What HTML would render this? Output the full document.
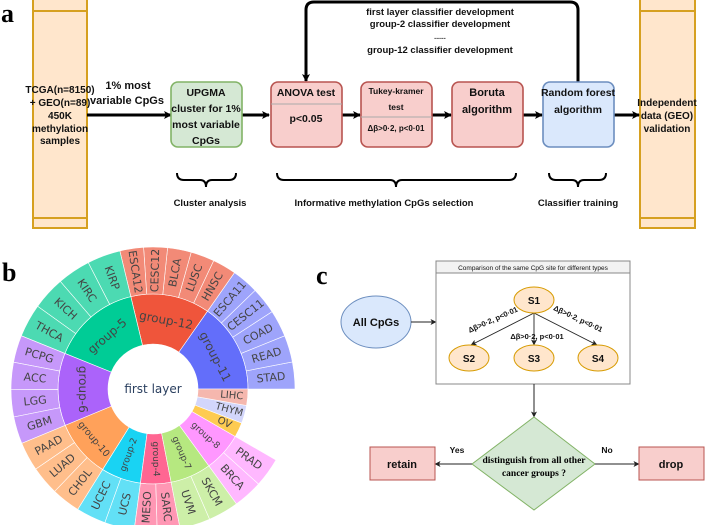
<!DOCTYPE html>
<html><head><meta charset="utf-8"><style>
html,body{margin:0;padding:0;background:#fff;}
svg{display:block;}
.a{font-family:"Liberation Sans",sans-serif;font-weight:bold;font-size:10.5px;fill:#111;text-anchor:middle;}
.c{font-family:"Liberation Sans",sans-serif;font-weight:bold;fill:#111;text-anchor:middle;}
.lab{font-family:"Liberation Serif",serif;font-weight:bold;font-size:26px;fill:#000;}
.sb{font-family:"DejaVu Sans",sans-serif;font-size:11px;fill:#444;text-anchor:middle;dominant-baseline:central;}
</style></head><body>
<svg id="s" width="708" height="525" viewBox="0 0 708 525" xmlns="http://www.w3.org/2000/svg">
<defs>
<marker id="ah" markerWidth="8" markerHeight="8" refX="7" refY="4" orient="auto" markerUnits="userSpaceOnUse"><path d="M0,0 L8,4 L0,8 L2,4 Z" fill="#000"/></marker>
<marker id="ahs" markerWidth="6" markerHeight="6" refX="5.5" refY="3" orient="auto" markerUnits="userSpaceOnUse"><path d="M0,0 L6,3 L0,6 L1.5,3 Z" fill="#222"/></marker>
</defs>
<text class="lab" x="1" y="22">a</text>
<text class="lab" x="2" y="281">b</text>
<text class="lab" x="316" y="284">c</text>

<rect x="33" y="-2" width="54" height="230" fill="#ffe6cc" stroke="#d6a020" stroke-width="2"/>
<line x1="33" y1="11" x2="87" y2="11" stroke="#d6a020" stroke-width="2"/>
<line x1="33" y1="218" x2="87" y2="218" stroke="#d6a020" stroke-width="2"/>
<rect x="640" y="-2" width="55" height="230" fill="#ffe6cc" stroke="#d6a020" stroke-width="2"/>
<line x1="640" y1="11" x2="695" y2="11" stroke="#d6a020" stroke-width="2"/>
<line x1="640" y1="218" x2="695" y2="218" stroke="#d6a020" stroke-width="2"/>
<text class="a" x="60" y="93" style="font-size:10px">TCGA(n=8150)</text>
<text class="a" x="60" y="106" style="font-size:10px">+ GEO(n=89)</text>
<text class="a" x="60" y="119" style="font-size:10px">450K</text>
<text class="a" x="60" y="132" style="font-size:10px">methylation</text>
<text class="a" x="60" y="144" style="font-size:10px">samples</text>
<text class="a" x="667" y="106" style="font-size:10px">Independent</text>
<text class="a" x="667" y="119" style="font-size:10px">data (GEO)</text>
<text class="a" x="667" y="132" style="font-size:10px">validation</text>
<text class="a" x="128" y="89" style="font-size:11px">1% most</text>
<text class="a" x="127" y="104" style="font-size:11px">variable CpGs</text>

<g stroke="#000" stroke-width="3" fill="none" marker-end="url(#ah)">
<line x1="87" y1="115" x2="171" y2="115"/>
<line x1="242" y1="115" x2="269" y2="115"/>
<line x1="342" y1="115" x2="360" y2="115"/>
<line x1="432" y1="115" x2="451" y2="115"/>
<line x1="523" y1="115" x2="542" y2="115"/>
<line x1="614" y1="115" x2="639" y2="115"/>
<path d="M578,82 L578,10 Q578,2 570,2 L314,2 Q306,2 306,10 L306,81"/>
</g>

<rect x="171" y="82" width="71" height="65" rx="7" fill="#d5e8d4" stroke="#82b366" stroke-width="1.6"/>
<text class="a" x="206" y="96">UPGMA</text>
<text class="a" x="206" y="112">cluster for 1%</text>
<text class="a" x="206" y="128">most variable</text>
<text class="a" x="206" y="144">CpGs</text>
<rect x="271" y="82" width="71" height="65" rx="7" fill="#f8cecc" stroke="#b85450" stroke-width="1.6"/>
<line x1="271" y1="104" x2="342" y2="104" stroke="#aaa" stroke-width="1"/>
<text class="a" x="306" y="96">ANOVA test</text>
<text class="a" x="306" y="122">p&lt;0.05</text>
<rect x="361" y="82" width="71" height="65" rx="7" fill="#f8cecc" stroke="#b85450" stroke-width="1.6"/>
<line x1="361" y1="117" x2="432" y2="117" stroke="#aaa" stroke-width="1"/>
<text class="a" x="396" y="94" style="font-size:8.5px">Tukey-kramer</text>
<text class="a" x="396" y="110" style="font-size:8.5px">test</text>
<text class="a" x="396" y="131" style="font-size:8px">Δβ&gt;0·2, p&lt;0·01</text>
<rect x="452" y="82" width="71" height="65" rx="7" fill="#f8cecc" stroke="#b85450" stroke-width="1.6"/>
<text class="a" x="487" y="96" style="font-size:11px">Boruta</text>
<text class="a" x="487" y="113" style="font-size:11px">algorithm</text>
<rect x="543" y="82" width="71" height="65" rx="7" fill="#dae8fc" stroke="#6c8ebf" stroke-width="1.6"/>
<text class="a" x="578" y="96" style="font-size:10.5px">Random forest</text>
<text class="a" x="578" y="113" style="font-size:10.5px">algorithm</text>

<text class="a" x="440" y="15" style="font-size:9.5px">first layer classifier development</text>
<text class="a" x="440" y="27" style="font-size:9.5px">group-2 classifier development</text>
<text class="a" x="440" y="39" style="font-size:7px">......</text>
<text class="a" x="440" y="53" style="font-size:9.5px">group-12 classifier development</text>

<g stroke="#000" stroke-width="2" fill="none">
<path d="M177,173 Q177,180 184,180 L200,180 Q206,180 206,187 Q206,180 212,180 L229,180 Q236,180 236,173"/>
<path d="M277,173 Q277,180 284,180 L390,180 Q396,180 396,187 Q396,180 402,180 L509,180 Q516,180 516,173"/>
<path d="M549,173 Q549,180 556,180 L572,180 Q578,180 578,187 Q578,180 584,180 L599,180 Q606,180 606,173"/>
</g>
<text class="a" x="210" y="206" style="font-size:9.5px">Cluster analysis</text>
<text class="a" x="384" y="206" style="font-size:9.5px">Informative methylation CpGs selection</text>
<text class="a" x="578" y="206" style="font-size:9.5px">Classifier training</text>

<g id="sun"></g>

<ellipse cx="376" cy="322" rx="35" ry="26" fill="#dae8fc" stroke="#6c8ebf" stroke-width="1"/>
<text class="c" x="376" y="326" style="font-size:11px">All CpGs</text>
<line x1="411" y1="322" x2="436" y2="322" stroke="#222" stroke-width="1" marker-end="url(#ahs)"/>
<rect x="436" y="261" width="194" height="123" fill="#fff" stroke="#888" stroke-width="1"/>
<rect x="436" y="261" width="194" height="12" fill="#f2f2f2" stroke="#888" stroke-width="1"/>
<text class="c" x="533" y="270" style="font-size:6.5px;font-weight:normal">Comparison of the same CpG site for different types</text>
<g stroke="#222" stroke-width="0.9" marker-end="url(#ahs)">
<line x1="534" y1="313" x2="471" y2="345"/>
<line x1="534" y1="313" x2="534" y2="345"/>
<line x1="534" y1="313" x2="597" y2="345"/>
</g>
<g fill="#ffe6cc" stroke="#d79b00" stroke-width="1">
<ellipse cx="534" cy="300" rx="20" ry="13"/>
<ellipse cx="469" cy="358" rx="20" ry="13"/>
<ellipse cx="534" cy="358" rx="20" ry="13"/>
<ellipse cx="598" cy="358" rx="20" ry="13"/>
</g>
<text class="c" x="534" y="304" style="font-size:10px">S1</text>
<text class="c" x="469" y="362" style="font-size:10px">S2</text>
<text class="c" x="534" y="362" style="font-size:10px">S3</text>
<text class="c" x="598" y="362" style="font-size:10px">S4</text>
<text class="c" x="494" y="322" style="font-size:7.5px" transform="rotate(-24 494 322)">Δβ&gt;0·2, p&lt;0·01</text>
<text class="c" x="537" y="339" style="font-size:7.5px">Δβ&gt;0·2, p&lt;0·01</text>
<text class="c" x="577" y="321" style="font-size:7.5px" transform="rotate(25 577 321)">Δβ&gt;0·2, p&lt;0·01</text>
<line x1="534" y1="384" x2="534" y2="417" stroke="#222" stroke-width="1" marker-end="url(#ahs)"/>
<polygon points="534,417 595,464 534,510 472,464" fill="#d5e8d4" stroke="#82b366" stroke-width="1"/>
<text x="534" y="463" style="font-family:'Liberation Serif',serif;font-weight:bold;font-size:9.5px;text-anchor:middle">distinguish  from all other</text>
<text x="534" y="476" style="font-family:'Liberation Serif',serif;font-weight:bold;font-size:9.5px;text-anchor:middle">cancer groups ?</text>
<line x1="472" y1="464" x2="435" y2="464" stroke="#222" stroke-width="1" marker-end="url(#ahs)"/>
<line x1="595" y1="464" x2="639" y2="464" stroke="#222" stroke-width="1" marker-end="url(#ahs)"/>
<text class="c" x="457" y="453" style="font-size:8.5px">Yes</text>
<text class="c" x="607" y="453" style="font-size:8.5px">No</text>
<rect x="370" y="447" width="65" height="33" fill="#f8cecc" stroke="#b85450" stroke-width="1"/>
<text class="c" x="402" y="468" style="font-size:11px">retain</text>
<rect x="639" y="447" width="65" height="33" fill="#f8cecc" stroke="#b85450" stroke-width="1"/>
<text class="c" x="671" y="468" style="font-size:11px">drop</text>
</svg>
<script>
(function(){
var cx=153,cy=389,r0=45,r1=95,r2=142;
var G=[
["group-11",0,55,"#636efa","#9ea4fb",["STAD","READ","COAD","CESC11","ESCA11"],"t",12],
["group-12",55,103.5,"#ef553b","#f28a77",["HNSC","LUSC","BLCA","CESC12","ESCA12"],"t",12],
["group-5",103.5,158,"#00cc96","#4cdab2",["KIRP","KIRC","KICH","THCA"],"t",12],
["group-6",158,202.5,"#ab63fa","#c698fa",["PCPG","ACC","LGG","GBM"],"t",12],
["group-10",202.5,238,"#ffa15a","#ffbe8b",["PAAD","LUAD","CHOL"],"t",9.5],
["group-2",238,262.4,"#19d3f3","#62e0f6",["UCEC","UCS"],"r",9],
["group-4",262.4,281,"#ff6692","#ff97b4",["MESO","SARC"],"r",9],
["group-7",281,306,"#b6e880","#cdefa8",["UVM","SKCM"],"r",9],
["group-8",306,330,"#ff97ff","#ffb8ff",["BRCA","PRAD"],"r",9],
["OV",330,339,"#fecb52",null,[],"r",10],
["THYM",339,350,"#d3d6fb",null,[],"r",10],
["LIHC",350,360,"#f5b7ae",null,[],"r",10]];
function pt(r,a){var t=a*Math.PI/180;return [cx+r*Math.cos(t),cy-r*Math.sin(t)];}
function arc(ri,ro,a1,a2,f){var p1=pt(ro,a1),p2=pt(ro,a2),p3=pt(ri,a2),p4=pt(ri,a1);var lg=(a2-a1)>180?1:0;
return '<path d="M'+p1+' A'+ro+','+ro+' 0 '+lg+' 0 '+p2+' L'+p3+' A'+ri+','+ri+' 0 '+lg+' 1 '+p4+' Z" fill="'+f+'" stroke="#fff" stroke-width="0.6"/>';}
function norm(r){while(r>90)r-=180;while(r<=-90)r+=180;return r;}
function txt(s,r,a,mode,fs){var p=pt(r,a);var rot=mode=="t"?norm(90-a):norm(-a);
return '<text class="sb" x="'+p[0].toFixed(1)+'" y="'+p[1].toFixed(1)+'"'+(fs?' style="font-size:'+fs+'px"':'')+' transform="rotate('+rot.toFixed(1)+' '+p[0].toFixed(1)+' '+p[1].toFixed(1)+')">'+s+'</text>';}
var h='';
G.forEach(function(g){
h+=arc(r0,r1,g[1],g[2],g[3]);
var n=g[5].length;
for(var i=0;i<n;i++){var a1=g[1]+(g[2]-g[1])*i/n,a2=g[1]+(g[2]-g[1])*(i+1)/n;
h+=arc(r1,r2,a1,a2,g[4]);h+=txt(g[5][i],(r1+r2)/2,(a1+a2)/2,"r");}
if(n) h+=txt(g[0],g[0]=="group-10"?78:(r0+r1)/2,(g[1]+g[2])/2,g[6],g[7]);
else h+=txt(g[0],r1-16,(g[1]+g[2])/2,"r",g[7]);
});
h+='<text x="'+cx+'" y="'+(cy+4)+'" style="font-family:\'DejaVu Sans\',sans-serif;font-size:12px;fill:#2a3f5f;text-anchor:middle">first layer</text>';
document.getElementById('sun').innerHTML=h;
})();
</script>
</body></html>
